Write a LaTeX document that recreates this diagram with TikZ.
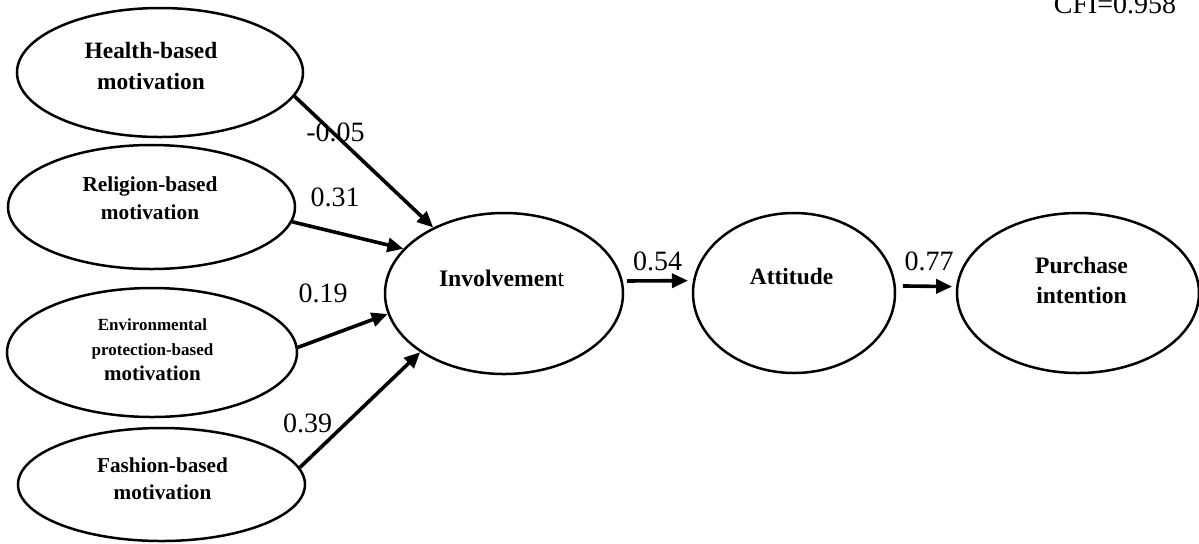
\documentclass[tikz,border=0pt]{standalone}
\usepackage{fontspec}
\setmainfont{Liberation Serif}
\usetikzlibrary{shapes.geometric,arrows.meta}
\begin{document}
\begin{tikzpicture}[x=0.5pt, y=-0.5pt, style={
    factor/.style={
      ellipse,
      draw,
      line width=1.25pt,
      inner sep=0pt,
    },
    factortext/.style={
      align=center,
      inner sep=0pt,
    },
    coef/.style={
      anchor=base,
      inner sep=0pt,
      font=\fontsize{14pt}{16pt}\selectfont,
    },
    patharrow/.style={-{Triangle[length=8pt, width=7pt]}, line width=1.8pt}
  }]
  \useasboundingbox (0,0) rectangle (1199,543);
  \draw[]
    node[factor, minimum width=143pt, minimum height=64.5pt] (health) at (160,72.5) {}
    node[factor, minimum width=143.5pt, minimum height=62pt] (religion) at (151.5,207) {}
    node[factor, minimum width=145pt, minimum height=64.5pt] (env) at (152,352.5) {}
    node[factor, minimum width=143.5pt, minimum height=56.5pt] (fashion) at (161.5,484.5) {}
    node[factor, minimum width=119pt, minimum height=80.5pt] (involve) at (504,293.5) {}
    node[factor, minimum width=101pt, minimum height=80pt] (attitude) at (794,293) {}
    node[factor, minimum width=121pt, minimum height=80pt] (purchase) at (1078,293) {}
  ;
  \draw[]
    node[factortext, font=\fontsize{11.7pt}{15.5pt}\selectfont\bfseries] (healthtext) at (151,65.5) {
      Health-based\\motivation
    }
    node[factortext, font=\fontsize{10.65pt}{14pt}\selectfont\bfseries] (religiontext) at (150,198.7) {
      Religion-based\\motivation
    }
    node[factortext, font=\fontsize{10.5pt}{12.5pt}\selectfont\bfseries] (envtext) at (152.5,349.7) {
      {\fontsize{8.5pt}{12pt}\selectfont Environmental}\\
      {\fontsize{8.5pt}{12pt}\selectfont protection-based}\\
      motivation
    }
    node[factortext, font=\fontsize{10.6pt}{13.5pt}\selectfont\bfseries] (fashiontext) at (162.5,479.2) {
      Fashion-based\\motivation
    }
    node[factortext, font=\fontsize{11.85pt}{15pt}\selectfont\bfseries] (involvetext) at (504.5,278) {
      Involvemen\textmd{t}
    }
    node[factortext, font=\fontsize{11.7pt}{15pt}\selectfont\bfseries] (attitudetext) at (794.5,277) {
      Attitude
    }
    node[factortext, font=\fontsize{11.8pt}{15pt}\selectfont\bfseries] (purchasetext) at (1081.5,280) {
      Purchase\\intention
    }
  ;
  \draw[patharrow] (health.-10) -- (involve.137);
  \draw[patharrow] (religion.-6) -- (involve.156);
  \draw[patharrow] (env.2) -- (involve.190);
  \draw[patharrow] (fashion.7) -- (involve.215);
  \draw[patharrow, shorten <=2pt, shorten >=2.5pt] (involve.6) -- (attitude.173);
  \draw[patharrow, shorten <=3.5pt, shorten >=2pt] (attitude.4) -- (purchase.177);
  \draw[]
    node[coef] (health-coef) at (335.5,141) {-0.05}
    node[coef] (religion-coef) at (335,206) {0.31}
    node[coef] (env-coef) at (323,302) {0.19}
    node[coef] (fashion-coef) at (307.5,432) {0.39}
    node[coef] (involve-coef) at (657.5,270) {0.54}
    node[coef] (attitude-coef) at (929,270) {0.77}
    node[coef] (cfi) at (1115,13) {CFI=0.958}
  ;
\end{tikzpicture}
\end{document}
